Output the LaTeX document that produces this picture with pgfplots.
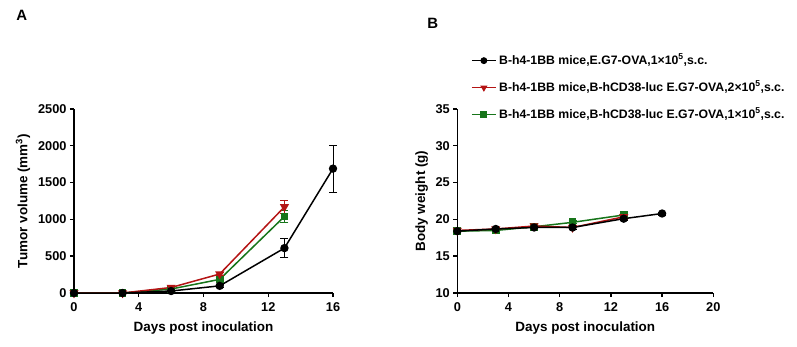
\documentclass[border=0pt]{standalone}
\usepackage{pgfplots}
\pgfplotsset{compat=1.18}
\usepackage{fontspec}
\setmainfont{Liberation Sans}
\definecolor{myred}{HTML}{B41414}
\definecolor{mygreen}{HTML}{17751A}
\pgfplotsset{
  mystyle/.style={
    scale only axis, axis lines=left, axis line style={line width=1.4bp,-},
    enlargelimits=false, clip=false,
    tick align=outside, major tick length=4bp,
    every tick/.style={line width=1.4bp,black},
    minor tick num=0,
    ticklabel style={font=\fontsize{12.8}{14}\selectfont\bfseries},
    xticklabel style={yshift=-2.5bp},
    /pgf/number format/assume math mode=true,
    /pgf/number format/1000 sep={},
    label style={font=\fontsize{13.5}{15}\selectfont\bfseries},
    xlabel style={at={(axis description cs:0.5,-0.19)}, anchor=center},
    every axis plot/.append style={line width=1.5bp},
    error bars/y dir=both, error bars/y explicit,
    error bars/error bar style={line width=0.9bp},
    error bars/error mark options={rotate=90, mark size=4bp, line width=0.9bp},
  },
  blk/.style={black, mark=*, mark size=3.4bp, mark options={solid,fill=black}},
  rd/.style={myred, mark=triangle*, mark options={rotate=180, solid, fill=myred}, mark size=3.8bp},
  gr/.style={mygreen, mark=square*, mark options={solid, fill=mygreen}, mark size=3.1bp},
}
\begin{document}
\begin{tikzpicture}
\useasboundingbox (0bp,0bp) rectangle (797bp,347bp);
\node[font=\fontsize{15}{18}\selectfont\bfseries] at (21.7bp,331.7bp) {A};
\node[font=\fontsize{15}{18}\selectfont\bfseries] at (432.8bp,323.2bp) {B};
\begin{axis}[mystyle, at={(74bp,54bp)}, anchor=south west, width=259bp, height=184bp,
  xmin=0, xmax=16, ymin=0, ymax=2500,
  xtick={0,4,8,12,16}, ytick={0,500,1000,1500,2000,2500},
  xlabel={Days post inoculation}, ylabel={Tumor volume (mm\textsuperscript{3})},
  ylabel style={at={(axis description cs:-0.197,0.5)}, anchor=center}]
\addplot[gr] coordinates {(0,0) +- (0,0) (3,0) +- (0,0) (6,54) +- (0,8) (9,185) +- (0,20) (13,1040) +- (0,75)};
\addplot[rd] coordinates {(0,0) +- (0,0) (3,0) +- (0,0) (6,75) +- (0,10) (9,258) +- (0,25) (13,1170) +- (0,85)};
\addplot[blk] coordinates {(0,0) +- (0,0) (3,0) +- (0,0) (6,27) +- (0,5) (9,97) +- (0,15) (13,610) +- (0,128) (16,1690) +- (0,320)};
\end{axis}
\begin{axis}[mystyle, at={(457.3bp,54bp)}, anchor=south west, width=256bp, height=184bp,
  xmin=0, xmax=20, ymin=10, ymax=35,
  xtick={0,4,8,12,16,20}, ytick={10,15,20,25,30,35},
  xlabel={Days post inoculation}, ylabel={Body weight (g)},
  ylabel style={at={(axis description cs:-0.139,0.5)}, anchor=center},
  reverse legend,
  legend cell align=left,
  legend style={draw=none, fill=none, inner sep=0pt, row sep=10bp,
    font=\fontsize{12.3}{14}\selectfont\bfseries,
    at={(axis description cs:0.053,1.31)}, anchor=north west,
    nodes={inner sep=2.5bp, text height=9.5bp, text depth=2.5bp}},
  legend image code/.code={\draw[line width=1.6bp, mark repeat=2,mark phase=2,mark size=2.6bp] plot coordinates {(0bp,0bp)(12bp,0bp)(24bp,0bp)};}]
\addplot[gr] coordinates {(0,18.4) +- (0,0.2) (3,18.5) +- (0,0.2) (6,19.0) +- (0,0.2) (9,19.6) +- (0,0.2) (13,20.6) +- (0,0.2)};
\addlegendentry{B-h4-1BB mice,B-hCD38-luc E.G7-OVA,1×10\textsuperscript{5},s.c.}
\addplot[rd] coordinates {(0,18.5) +- (0,0.2) (3,18.7) +- (0,0.2) (6,19.1) +- (0,0.2) (9,18.9) +- (0,0.3) (13,20.35) +- (0,0.3)};
\addlegendentry{B-h4-1BB mice,B-hCD38-luc E.G7-OVA,2×10\textsuperscript{5},s.c.}
\addplot[blk] coordinates {(0,18.4) +- (0,0.2) (3,18.7) +- (0,0.2) (6,18.9) +- (0,0.2) (9,18.9) +- (0,0.2) (13,20.1) +- (0,0.2) (16,20.8) +- (0,0.2)};
\addlegendentry{B-h4-1BB mice,E.G7-OVA,1×10\textsuperscript{5},s.c.}
\end{axis}
\end{tikzpicture}
\end{document}
